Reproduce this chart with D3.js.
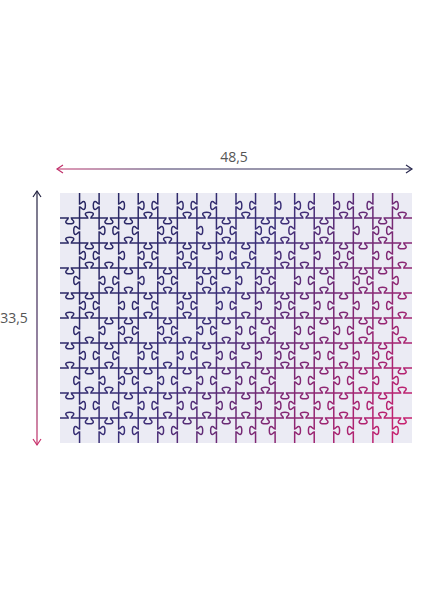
<!DOCTYPE html>
<html><head><meta charset="utf-8">
<script src="https://cdn.jsdelivr.net/npm/d3@7"></script>
<style>body{margin:0;background:#fff}svg{display:block}</style>
</head><body>
<svg id="chart" width="424" height="600"></svg>
<script>
const width = 48.5, height = 33.5;
const cols = 18, rows = 10;
// tab direction per inner edge: "1" = knob down/right, "0" = knob up/left
const hTabs = [
  "101101001011010010",
  "011010110100101101",
  "100101011010010110",
  "110010100101101001",
  "001101011010010110",
  "101010010101101010",
  "010110101010010101",
  "100101010101101010",
  "011010101010010101"
];
const vTabs = [
  "10110100101101001",
  "01001011010010110",
  "10110101001011010",
  "01011010110100101",
  "10100101011010110",
  "01101010100101001",
  "10010101011010110",
  "01101010100101011",
  "10010101011010100",
  "01101010100101011"
];

var svg = d3.select("#chart");
var x = d3.scaleLinear().domain([0, cols]).range([60, 412]);
var y = d3.scaleLinear().domain([0, rows]).range([193, 443]);

var defs = svg.append("defs");
var g1 = defs.append("linearGradient").attr("id", "pz").attr("gradientUnits", "userSpaceOnUse")
  .attr("x1", 60).attr("y1", 193).attr("x2", 412).attr("y2", 443);
g1.append("stop").attr("offset", "0").attr("stop-color", "#24255e");
g1.append("stop").attr("offset", "0.45").attr("stop-color", "#3a2f78");
g1.append("stop").attr("offset", "1").attr("stop-color", "#d21f6e");
var g2 = defs.append("linearGradient").attr("id", "ha").attr("gradientUnits", "userSpaceOnUse")
  .attr("x1", 57).attr("y1", 0).attr("x2", 412).attr("y2", 0);
g2.append("stop").attr("offset", "0").attr("stop-color", "#c0306a");
g2.append("stop").attr("offset", "0.3").attr("stop-color", "#3a2f60");
g2.append("stop").attr("offset", "1").attr("stop-color", "#2a2a50");
var g3 = defs.append("linearGradient").attr("id", "va").attr("gradientUnits", "userSpaceOnUse")
  .attr("x1", 0).attr("y1", 192).attr("x2", 0).attr("y2", 445);
g3.append("stop").attr("offset", "0").attr("stop-color", "#222240");
g3.append("stop").attr("offset", "0.6").attr("stop-color", "#4a2d60");
g3.append("stop").attr("offset", "1").attr("stop-color", "#c8306a");

svg.append("rect").attr("x", x(0)).attr("y", y(0))
  .attr("width", x(cols) - x(0)).attr("height", y(rows) - y(0)).attr("fill", "#ebebf4");

var k = 0.8;
function hEdge(x0, x1, yy, s) {
  var m = (x0 + x1) / 2, p = d3.path();
  p.moveTo(x0, yy); p.lineTo(m - 2 * k, yy);
  p.bezierCurveTo(m - 2 * k, yy + s * 2 * k, m - 5 * k, yy + s * 3 * k, m - 5 * k, yy + s * 5 * k);
  p.bezierCurveTo(m - 5 * k, yy + s * 8 * k, m + 5 * k, yy + s * 8 * k, m + 5 * k, yy + s * 5 * k);
  p.bezierCurveTo(m + 5 * k, yy + s * 3 * k, m + 2 * k, yy + s * 2 * k, m + 2 * k, yy);
  p.lineTo(x1, yy);
  return p.toString();
}
function vEdge(y0, y1, xx, s) {
  var m = (y0 + y1) / 2, p = d3.path();
  p.moveTo(xx, y0); p.lineTo(xx, m - 2 * k);
  p.bezierCurveTo(xx + s * 2 * k, m - 2 * k, xx + s * 3 * k, m - 5 * k, xx + s * 5 * k, m - 5 * k);
  p.bezierCurveTo(xx + s * 8 * k, m - 5 * k, xx + s * 8 * k, m + 5 * k, xx + s * 5 * k, m + 5 * k);
  p.bezierCurveTo(xx + s * 3 * k, m + 5 * k, xx + s * 2 * k, m + 2 * k, xx, m + 2 * k);
  p.lineTo(xx, y1);
  return p.toString();
}
var paths = [];
hTabs.forEach((row, r) => row.split("").forEach((c, i) => {
  paths.push(hEdge(x(i), x(i + 1), y(r + 1), c == "1" ? 1 : -1));
}));
vTabs.forEach((row, r) => row.split("").forEach((c, i) => {
  paths.push(vEdge(y(r), y(r + 1), x(i + 1), c == "1" ? 1 : -1));
}));
svg.append("g").selectAll("path").data(paths).enter().append("path")
  .attr("d", d => d).attr("fill", "none").attr("stroke", "url(#pz)").attr("stroke-width", 1.5);

// dimension arrows
var ay = 169, ax = 37;
svg.append("line").attr("x1", 57).attr("x2", 412).attr("y1", ay).attr("y2", ay)
  .attr("stroke", "url(#ha)").attr("stroke-width", 1.2);
svg.append("path").attr("d", `M63,${ay - 4} L57,${ay} L63,${ay + 4}`).attr("fill", "none").attr("stroke", "#c0306a").attr("stroke-width", 1.2);
svg.append("path").attr("d", `M406,${ay - 4} L412,${ay} L406,${ay + 4}`).attr("fill", "none").attr("stroke", "#2a2a50").attr("stroke-width", 1.2);
svg.append("line").attr("x1", ax).attr("x2", ax).attr("y1", 191).attr("y2", 445)
  .attr("stroke", "url(#va)").attr("stroke-width", 1.2);
svg.append("path").attr("d", `M${ax - 4},197 L${ax},191 L${ax + 4},197`).attr("fill", "none").attr("stroke", "#222240").attr("stroke-width", 1.2);
svg.append("path").attr("d", `M${ax - 4},439 L${ax},445 L${ax + 4},439`).attr("fill", "none").attr("stroke", "#c8306a").attr("stroke-width", 1.2);

svg.append("text").attr("x", 234).attr("y", 162).attr("text-anchor", "middle")
  .attr("font-family", "Open Sans, sans-serif").attr("font-size", 14).attr("fill", "#555")
  .text(String(width).replace(".", ","));
svg.append("text").attr("x", 14).attr("y", 323).attr("text-anchor", "middle")
  .attr("font-family", "Open Sans, sans-serif").attr("font-size", 14).attr("fill", "#555")
  .text(String(height).replace(".", ","));
</script>
</body></html>
